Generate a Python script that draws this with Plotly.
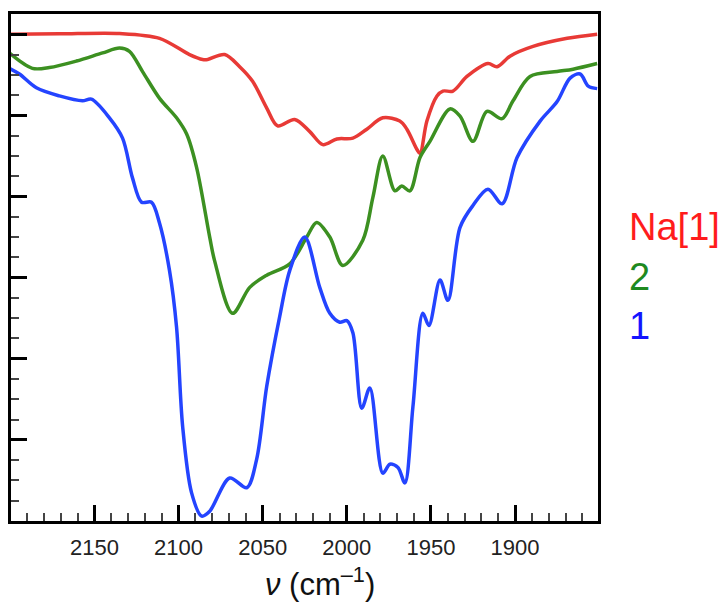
import plotly.graph_objects as go

# Na[1] (red)
na1_x = [2200.6, 2170.8, 2135.1, 2111.3, 2093.5, 2085.7, 2082.7, 2072.6, 2063.7, 2056.0,
         2047.6, 2041.1, 2031.0, 2022.0, 2014.3, 2005.9, 1996.4, 1988.1, 1978.6, 1968.5,
         1964.3, 1958.3, 1956.5, 1952.4, 1946.4, 1942.9, 1936.9, 1928.6, 1916.1, 1910.7,
         1903.0, 1889.3, 1869.0, 1851.2]
na1_y = [6.00, 6.005, 6.01, 5.95, 5.75, 5.69, 5.69, 5.75, 5.60, 5.42,
         5.09, 4.87, 4.95, 4.80, 4.64, 4.71, 4.72, 4.83, 4.97, 4.93,
         4.83, 4.58, 4.53, 4.93, 5.24, 5.30, 5.30, 5.48, 5.64, 5.60,
         5.73, 5.85, 5.95, 6.00]

# 2 (green)
c2_x = [2200.6, 2186.9, 2176.8, 2160.7, 2145.2, 2135.1, 2129.2, 2121.4, 2111.3, 2101.2,
        2095.2, 2089.3, 2081.5, 2078.6, 2067.9, 2057.7, 2047.6, 2033.9, 2023.8, 2017.9,
        2010.1, 2002.4, 1990.5, 1984.5, 1978.6, 1971.4, 1967.3, 1962.5, 1956.5, 1950.6,
        1938.7, 1932.7, 1925.0, 1916.7, 1907.7, 1901.2, 1891.1, 1875.0, 1865.5, 1851.2]
c2_y = [5.77, 5.58, 5.59, 5.67, 5.77, 5.83, 5.79, 5.54, 5.21, 4.97,
        4.77, 4.36, 3.50, 3.21, 2.56, 2.88, 3.03, 3.17, 3.50, 3.68,
        3.50, 3.15, 3.46, 3.99, 4.50, 4.07, 4.13, 4.07, 4.48, 4.68,
        5.08, 4.99, 4.68, 5.05, 4.96, 5.18, 5.48, 5.54, 5.57, 5.64]

# 1 (blue)
c1_x = [2200.6, 2194.6, 2184.5, 2170.8, 2157.1, 2151.8, 2141.1, 2133.3, 2127.4, 2122.0,
        2116.1, 2111.3, 2105.4, 2101.2, 2097.6, 2092.3, 2086.3, 2081.5, 2069.6, 2059.5,
        2053.6, 2047.6, 2039.9, 2033.9, 2025.0, 2016.1, 2010.1, 2004.2, 2000.0, 1996.4,
        1991.1, 1986.3, 1978.6, 1974.4, 1969.6, 1965.5, 1960.7, 1954.8, 1951.2, 1944.6,
        1939.9, 1932.7, 1925.0, 1916.1, 1907.7, 1898.8, 1885.1, 1875.0, 1867.3, 1861.3,
        1856.5, 1851.2]
c1_y = [5.58, 5.51, 5.34, 5.24, 5.18, 5.20, 4.97, 4.72, 4.23, 3.93,
        3.93, 3.67, 3.09, 2.39, 1.17, 0.35, 0.06, 0.12, 0.53, 0.41,
        0.76, 1.66, 2.52, 3.09, 3.50, 2.88, 2.56, 2.45, 2.47, 2.32,
        1.39, 1.64, 0.59, 0.70, 0.66, 0.47, 1.41, 2.56, 2.41, 2.97,
        2.72, 3.62, 3.89, 4.09, 3.91, 4.48, 4.93, 5.17, 5.46, 5.51,
        5.36, 5.33]

series_names = ["Na[1]", "2", "1"]
line_colors = ["#e83a36", "#3c9021", "#2444ff"]
label_colors = ["#ff1c1c", "#1f8a1f", "#1414ff"]

fig = go.Figure()
for xs, ys, col, name in [(na1_x, na1_y, line_colors[0], series_names[0]),
                          (c2_x, c2_y, line_colors[1], series_names[1]),
                          (c1_x, c1_y, line_colors[2], series_names[2])]:
    fig.add_trace(go.Scatter(x=xs, y=ys, mode="lines", name=name,
                             line=dict(color=col, width=3.5, shape="spline", smoothing=0.9),
                             showlegend=False))

font_family = "Liberation Sans, Arial, Helvetica, sans-serif"

fig.update_layout(
    width=727, height=607,
    margin=dict(l=11, r=129, t=12, b=86),
    paper_bgcolor="white", plot_bgcolor="white",
    font=dict(family=font_family, color="#222222"),
    xaxis=dict(
        range=[2199.6, 1850.7], dtick=50, tick0=0,
        ticks="inside", ticklen=16, tickwidth=2.5, tickcolor="black",
        showline=True, linecolor="black", linewidth=3, mirror=True,
        showgrid=False, zeroline=False, ticklabelstandoff=5,
        tickfont=dict(size=22, color="#222222", family=font_family),
        minor=dict(dtick=10, tick0=0, ticks="inside", ticklen=8, tickwidth=2, tickcolor="#444444", showgrid=False),
    ),
    yaxis=dict(
        range=[0, 6.25], dtick=1, tick0=0,
        ticks="inside", ticklen=16, tickwidth=2.5, tickcolor="black",
        showline=True, linecolor="black", linewidth=3, mirror=True,
        showgrid=False, zeroline=False, showticklabels=False,
        minor=dict(dtick=0.25, tick0=0, ticks="inside", ticklen=8, tickwidth=2, tickcolor="#444444", showgrid=False),
    ),
)

label_y = [0.58, 0.482, 0.384]
for name, col, yy in zip(series_names, label_colors, label_y):
    fig.add_annotation(xref="paper", yref="paper", x=1.05, y=yy, text=name,
                       showarrow=False, xanchor="left", yanchor="middle",
                       font=dict(size=38, color=col, family=font_family))

fig.add_annotation(xref="paper", yref="paper", x=(320 - 11) / 587, y=-0.12,
                   text="<i>ν</i> (cm<sup>–1</sup>)", showarrow=False,
                   xanchor="center", yanchor="middle",
                   font=dict(size=31, color="#111111", family=font_family))

fig.write_html("out.html")
